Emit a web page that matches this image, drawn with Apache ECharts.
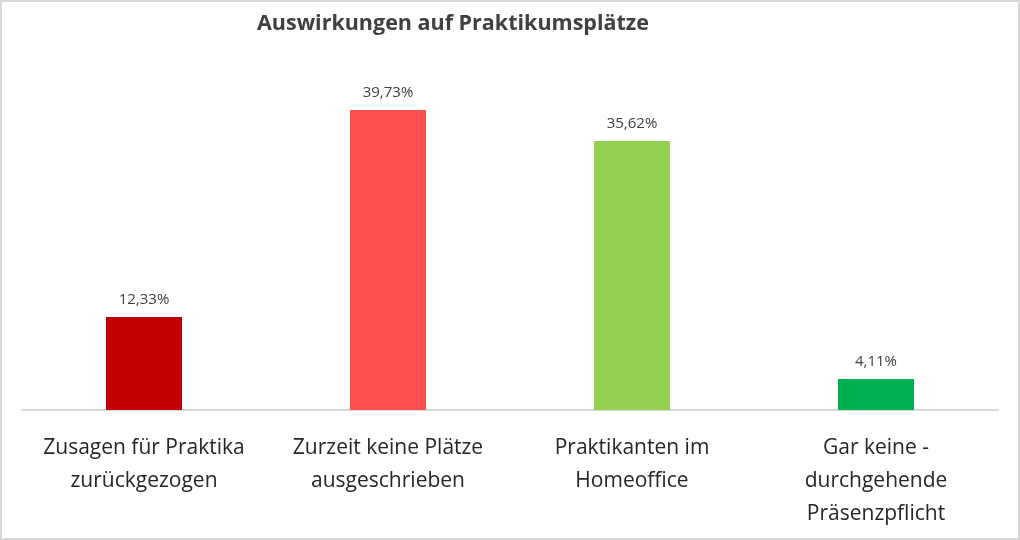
<!DOCTYPE html>
<html><head><meta charset="utf-8">
<script src="https://cdn.jsdelivr.net/npm/echarts@6/dist/echarts.min.js"></script>
<style>html,body{margin:0;padding:0;background:#fff}#c{width:1020px;height:540px}</style>
</head><body><div id="c"></div>
<script>
const title = 'Auswirkungen auf Praktikumsplätze';
const categories = ['Zusagen für Praktika\nzurückgezogen', 'Zurzeit keine Plätze\nausgeschrieben', 'Praktikanten im\nHomeoffice', 'Gar keine -\ndurchgehende\nPräsenzpflicht'];
const values = [12.33, 39.73, 35.62, 4.11];
const colors = ['#C00000', '#FF5050', '#92D050', '#00B050'];

const chart = echarts.init(document.getElementById('c'));
chart.setOption({
  backgroundColor: '#fff',
  animation: false,
  title: {
    text: title, left: 448, top: 8, textAlign: 'center',
    textStyle: {fontFamily: 'Open Sans', fontWeight: 'bold', fontSize: 21.5, color: '#404040'}
  },
  graphic: [{type: 'rect', shape: {x: 1, y: 1, width: 1018, height: 538}, style: {fill: 'none', stroke: '#d9d9d9', lineWidth: 2}, silent: true}],
  grid: {left: 22, right: 22, top: 108, bottom: 130},
  xAxis: {
    type: 'category', data: categories,
    axisLine: {lineStyle: {color: '#d9d9d9', width: 2}},
    axisTick: {show: false},
    axisLabel: {interval: 0, margin: 22, fontFamily: 'Open Sans', fontSize: 21, lineHeight: 33, color: '#262626'}
  },
  yAxis: {type: 'value', min: 0, max: 40, show: false, splitLine: {show: false}},
  series: [{
    type: 'bar', barWidth: 76,
    data: values.map((v, i) => ({value: v, itemStyle: {color: colors[i]}})),
    label: {
      show: true, position: 'top', distance: 10,
      fontFamily: 'Open Sans', fontSize: 15, color: '#404040',
      formatter: p => p.value.toFixed(2).replace('.', ',') + '%'
    }
  }]
});
</script></body></html>
